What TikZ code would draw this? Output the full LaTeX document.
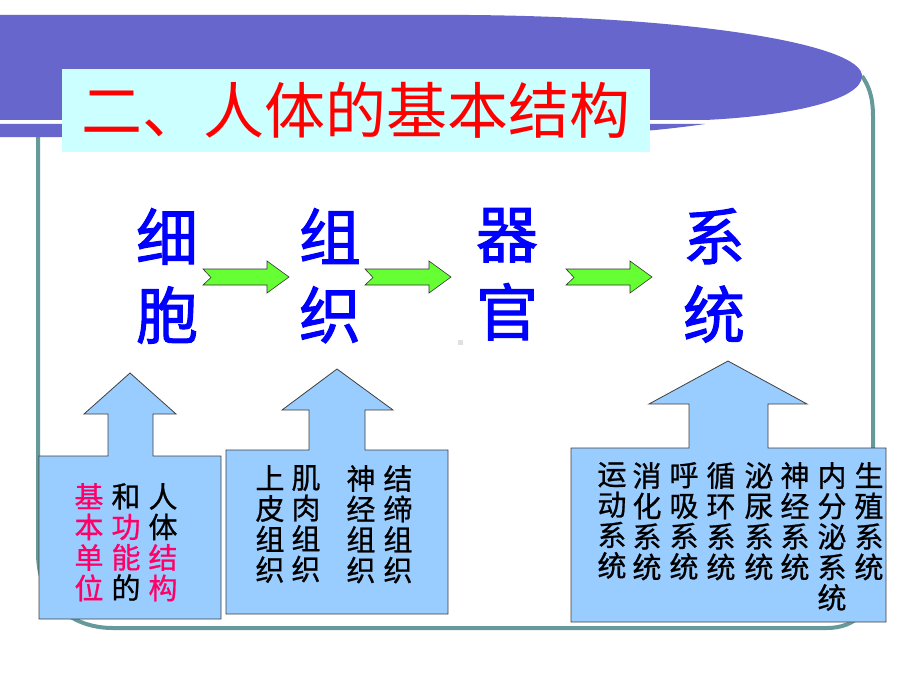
\documentclass[tikz,border=0pt]{standalone}
\usepackage{fontspec}
\newfontfamily\cjk{Noto Sans CJK SC}
\newfontfamily\cjkbig[FakeBold=1.6]{Noto Sans CJK SC}
\newfontfamily\cjkcol[FakeBold=0.8]{Noto Sans CJK SC}
\usetikzlibrary{positioning}

\definecolor{banner}{RGB}{102,102,204}
\definecolor{frameteal}{RGB}{102,153,153}
\definecolor{titlebg}{RGB}{204,255,255}
\definecolor{calloutblue}{RGB}{153,204,255}
\definecolor{arrowgreen}{RGB}{102,255,51}
\definecolor{hot}{RGB}{255,0,102}

\tikzset{
  titlebox/.style  = {fill=titlebg, text=red, inner sep=0pt,
                      minimum width=588pt, minimum height=83pt,
                      font=\cjk\fontsize{61}{61}\selectfont},
  bigword/.style   = {font=\cjkbig\fontsize{62}{78}\selectfont,
                      text=blue, align=center, anchor=north, inner sep=0pt},
  callout/.style   = {draw=black!75, fill=calloutblue, line width=0.8pt},
  coltext/.style   = {font=\cjkcol\fontsize{29}{30.5}\selectfont,
                      align=center, anchor=north, inner sep=0pt},
  flowarrow/.style = {draw=black!80, fill=arrowgreen, line width=0.6pt}
}

\begin{document}
\begin{tikzpicture}[x=1pt, y=-1pt]
  \fill[white] (0,0) rectangle (920,690);
  \useasboundingbox (0,0) rectangle (920,690);

  % frame and banner
  \draw[frameteal, line width=4pt]
    (38,137) -- (38,553) .. controls (38,600) and (70,628) .. (113,628)
    -- (827,628) .. controls (855,628) and (873,610) .. (873,582)
    -- (873,117) .. controls (873,95) and (868,85) .. (862,76);
  \fill[banner] (0,15) -- (470,15) .. controls (700,17) and (862,45) .. (862,76)
    .. controls (862,100) and (790,116) .. (705,120) -- (0,120) -- cycle;
  \fill[banner] (0,124) -- (705,124) .. controls (650,132) and (580,137) .. (500,137)
    -- (0,137) -- cycle;
  \node[titlebox] (title) at (356,110.5) {二、人体的基本结构};

  % levels
  \foreach \n/\x/\t in {cell/167/细\\胞, tissue/330/组\\织,
                        organ/507/器\\官, system/714/系\\统}
    \node[bigword] (\n) at (\x,208) {\t};
  \foreach \x in {203,365,566}
    \filldraw[flowarrow] (\x,269) -- ++(64,0) -- ++(0,-8) -- ++(22,16)
      -- ++(-22,16) -- ++(0,-8) -- ++(-64,0) -- ++(8,-7.5) -- cycle;
  \fill[black!12] (458,340) rectangle (463,345);

  % callouts
  \draw[callout] (39,456) -- (108,456) -- (108,414) -- (84,414) -- (130,373)
    -- (176,414) -- (153,414) -- (153,456) -- (221,456) -- (221,619)
    -- (39,619) -- cycle;
  \draw[callout] (226,450) -- (309,450) -- (309,410) -- (282,410) -- (337,369)
    -- (393,410) -- (365,410) -- (365,450) -- (448,450) -- (448,614)
    -- (226,614) -- cycle;
  \draw[callout] (571,448) -- (689,448) -- (689,404) -- (649,404) -- (728,361)
    -- (807,404) -- (768,404) -- (768,448) -- (886,448) -- (886,622)
    -- (571,622) -- cycle;

  \node[coltext, text=hot] (unit) at (89,483) {基\\本\\单\\位};
  \node[coltext] (func) at (126,483)
    {和\\\textcolor{hot}{功}\\\textcolor{hot}{能}\\的};
  \node[coltext] (body) at (163,483)
    {人\\体\\\textcolor{hot}{结}\\\textcolor{hot}{构}};

  \foreach \n/\x/\t in {epi/270/上\\皮\\组\\织, muscle/306/肌\\肉\\组\\织,
                        nerve/361/神\\经\\组\\织, conn/398/结\\缔\\组\\织}
    \node[coltext] (\n) at (\x,465) {\t};

  \foreach \n/\x/\t in {move/612/运\\动\\系\\统, digest/647/消\\化\\系\\统,
                        breath/684/呼\\吸\\系\\统, circ/721/循\\环\\系\\统,
                        urine/759/泌\\尿\\系\\统, nerves/795/神\\经\\系\\统,
                        endo/832/内\\分\\泌\\系\\统, repro/869/生\\殖\\系\\统}
    \node[coltext] (\n) at (\x,462) {\t};
\end{tikzpicture}
\end{document}
